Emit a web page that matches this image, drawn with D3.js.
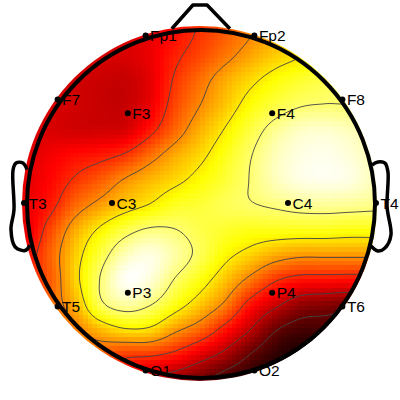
<!DOCTYPE html>
<html>
<head>
<meta charset="utf-8">
<script src="https://cdn.jsdelivr.net/npm/d3@7"></script>
<style>
  html, body { margin: 0; padding: 0; background: #fff; }
  svg { display: block; }
  text { font-family: "Liberation Sans", Arial, sans-serif; font-size: 15.5px; fill: #000; }
</style>
</head>
<body>
<script>
// 10-20 electrodes, unit head coordinates
var electrodeNames = ["Fp1", "Fp2", "F7", "F3", "F4", "F8", "T3", "C3", "C4", "T4", "T5", "P3", "P4", "T6", "O1", "O2"];
var electrodeX = [-0.309, 0.309, -0.809, -0.41, 0.41, 0.809, -1, -0.5, 0.5, 1, -0.809, -0.41, 0.41, 0.809, -0.309, 0.309];
var electrodeY = [0.951, 0.951, 0.588, 0.51, 0.51, 0.588, 0, 0, 0, 0, -0.588, -0.51, -0.51, -0.588, -0.951, -0.951];

// contour levels and the head shapes, unit head coordinates
var contourLevels = [0.143, 0.27, 0.429, 0.571, 0.714, 0.857];
var nosePoints = [[-0.16, 0.99], [-0.04, 1.125], [0.04, 1.125], [0.17, 0.99]];
var leftEarPoints = [[-0.983, 0.19], [-1.006, 0.227], [-1.045, 0.227], [-1.062, 0.19], [-1.057, -0.04], [-1.074, -0.15], [-1.05, -0.25], [-0.994, -0.27], [-0.966, -0.24]];
var rightEarPoints = [[0.977, 0.216], [1.011, 0.233], [1.051, 0.227], [1.068, 0.176], [1.063, -0.023], [1.085, -0.182], [1.051, -0.256], [1.011, -0.273], [0.966, -0.239]];

// scalp values, one row per 25px, top to bottom
var row00 = [0.30, 0.30, 0.31, 0.30, 0.31, 0.33, 0.38, 0.44, 0.50, 0.56, 0.63, 0.70, 0.76, 0.80, 0.85];
var row01 = [0.30, 0.31, 0.32, 0.31, 0.31, 0.34, 0.41, 0.47, 0.54, 0.61, 0.67, 0.71, 0.75, 0.79, 0.83];
var row02 = [0.30, 0.30, 0.30, 0.29, 0.285, 0.33, 0.44, 0.53, 0.62, 0.69, 0.75, 0.79, 0.82, 0.84, 0.87];
var row03 = [0.30, 0.31, 0.30, 0.285, 0.285, 0.34, 0.47, 0.57, 0.66, 0.75, 0.81, 0.85, 0.86, 0.86, 0.88];
var row04 = [0.31, 0.31, 0.30, 0.30, 0.31, 0.40, 0.52, 0.63, 0.72, 0.81, 0.89, 0.94, 0.95, 0.93, 0.90];
var row05 = [0.32, 0.35, 0.38, 0.40, 0.44, 0.53, 0.62, 0.69, 0.77, 0.85, 0.93, 0.97, 0.98, 0.96, 0.92];
var row06 = [0.33, 0.37, 0.44, 0.50, 0.58, 0.64, 0.69, 0.745, 0.80, 0.86, 0.93, 0.97, 0.98, 0.97, 0.93];
var row07 = [0.34, 0.40, 0.52, 0.60, 0.67, 0.72, 0.78, 0.80, 0.83, 0.85, 0.87, 0.89, 0.895, 0.89, 0.88];
var row08 = [0.33, 0.47, 0.62, 0.73, 0.82, 0.87, 0.86, 0.82, 0.79, 0.77, 0.77, 0.77, 0.77, 0.76, 0.76];
var row09 = [0.38, 0.51, 0.67, 0.81, 0.93, 0.97, 0.91, 0.83, 0.74, 0.68, 0.62, 0.59, 0.59, 0.59, 0.59];
var row10 = [0.42, 0.50, 0.68, 0.86, 0.99, 0.96, 0.85, 0.76, 0.655, 0.545, 0.44, 0.39, 0.385, 0.38, 0.38];
var row11 = [0.44, 0.52, 0.63, 0.83, 0.90, 0.86, 0.76, 0.66, 0.55, 0.39, 0.29, 0.21, 0.19, 0.17, 0.17];
var row12 = [0.45, 0.50, 0.55, 0.64, 0.70, 0.69, 0.59, 0.51, 0.39, 0.27, 0.15, 0.10, 0.10, 0.10, 0.10];
var row13 = [0.45, 0.50, 0.52, 0.50, 0.45, 0.44, 0.40, 0.32, 0.24, 0.14, 0.07, 0.03, 0.04, 0.06, 0.06];
var row14 = [0.45, 0.48, 0.47, 0.45, 0.36, 0.27, 0.22, 0.17, 0.10, 0.06, 0.02, 0.00, 0.02, 0.04, 0.05];
var scalpRows = [row00, row01, row02, row03, row04, row05, row06, row07, row08, row09, row10, row11, row12, row13, row14];

var width = 400, height = 400;

var x = d3.scaleLinear().domain([-1, 1]).range([24, 376]);
var y = d3.scaleLinear().domain([-1, 1]).range([379, 27]);
var gridX = d3.scaleLinear().domain([0, 14]).range([25, 375]);
var gridY = d3.scaleLinear().domain([0, 14]).range([30, 380]);
var color = d3.scaleLinear()
    .domain([0, 0.365, 0.746, 1])
    .range(["#000000", "#ff0000", "#ffff00", "#ffffff"])
    .clamp(true);

function catmull(a, b, c, d, t) {
    return 0.5 * (2 * b + (c - a) * t + (2 * a - 5 * b + 4 * c - d) * t * t + (3 * b - a - 3 * c + d) * t * t * t);
}

// smooth lookup in the value rows, px is in page pixels
function valueAt(px, py) {
    var gx = Math.max(0, Math.min(13.999, gridX.invert(px))),
        gy = Math.max(0, Math.min(13.999, gridY.invert(py))),
        i = Math.floor(gx), j = Math.floor(gy),
        col = [];
    for (var k = -1; k <= 2; k++) {
        var r = scalpRows[Math.max(0, Math.min(14, j + k))];
        col.push(catmull(r[Math.max(0, i - 1)], r[i], r[i + 1], r[Math.min(14, i + 2)], gx - i));
    }
    return catmull(col[0], col[1], col[2], col[3], gy - j);
}

var svg = d3.select("body").append("svg").attr("width", width).attr("height", height);
var defs = svg.append("defs");
defs.append("clipPath").attr("id", "heatClip").append("circle").attr("cx", 199.5).attr("cy", 203.5).attr("r", 177.5);
defs.append("clipPath").attr("id", "lineClip").append("circle").attr("cx", x(0)).attr("cy", y(0) + 1).attr("r", 174);

// raster cells
var cellSize = 4.5;
var cells = [];
d3.range(20, 382, cellSize).forEach(function(cx) {
    d3.range(22, 384, cellSize).forEach(function(cy) {
        cells.push({x: cx, y: cy, v: valueAt(cx + cellSize / 2, cy + cellSize / 2)});
    });
});
svg.append("g").attr("clip-path", "url(#heatClip)")
    .selectAll("rect").data(cells).enter().append("rect")
    .attr("x", function(d) { return d.x; })
    .attr("y", function(d) { return d.y; })
    .attr("width", cellSize + 0.1)
    .attr("height", cellSize + 0.1)
    .attr("fill", function(d) { return color(d.v); })
    .attr("shape-rendering", "crispEdges");

// contour lines, on a finer sampling of the same values
var fine = 2, nx = 176, ny = 176, fineValues = [];
for (var j = 0; j < ny; j++) {
    for (var i = 0; i < nx; i++) {
        fineValues.push(valueAt(25 + i * fine, 30 + j * fine));
    }
}
var contours = d3.contours().size([nx, ny]).thresholds(contourLevels)(fineValues);
var contourPath = d3.geoPath(d3.geoTransform({
    point: function(px, py) { this.stream.point(25 + (px - 0.5) * fine, 30 + (py - 0.5) * fine); }
}));
svg.append("g").attr("clip-path", "url(#lineClip)")
    .selectAll("path").data(contours).enter().append("path")
    .attr("d", contourPath)
    .attr("fill", "none")
    .attr("stroke", "#444")
    .attr("stroke-width", 0.9);

// head outline, nose, ears
var noseLine = d3.line()
    .x(function(d) { return x(d[0]); })
    .y(function(d) { return y(d[1]); });
var earLine = d3.line()
    .x(function(d) { return x(d[0]); })
    .y(function(d) { return y(d[1]); })
    .curve(d3.curveCatmullRom);
var head = svg.append("g").attr("fill", "none").attr("stroke", "#000").attr("stroke-width", 3.5).attr("stroke-linejoin", "round");
head.append("circle").attr("cx", 201).attr("cy", 204).attr("r", 174).attr("stroke-width", 4);
head.append("path").attr("d", noseLine(nosePoints));
[leftEarPoints, rightEarPoints].forEach(function(pts) {
    head.append("path").attr("d", earLine(pts));
});

// electrodes
var elec = svg.append("g").selectAll("g").data(electrodeNames).enter().append("g")
    .attr("transform", function(d, i) { return "translate(" + x(electrodeX[i]) + "," + y(electrodeY[i]) + ")"; });
elec.append("circle").attr("r", 3).attr("fill", "#000");
elec.append("text").attr("x", 4.5).attr("y", 5.5).text(function(d) { return d; });
</script>
</body>
</html>
